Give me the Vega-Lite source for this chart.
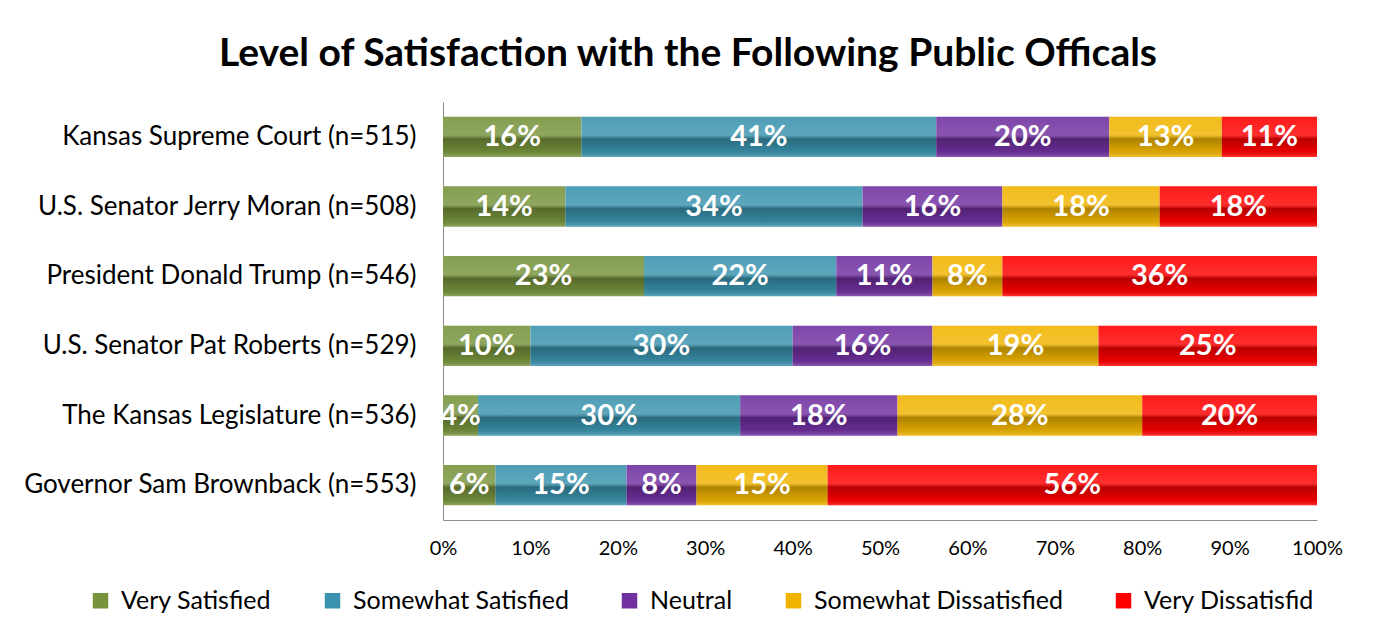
{
  "$schema": "https://vega.github.io/schema/vega-lite/v6.json",
  "width": 874,
  "height": 418,
  "autosize": {"type": "none"},
  "padding": {"left": 443, "top": 102, "right": 60, "bottom": 115},
  "background": "white",
  "config": {"view": {"stroke": null}, "font": "Lato"},
  "title": {
    "text": "Level of Satisfaction with the Following Public Officals",
    "fontSize": 39,
    "fontWeight": "bold",
    "color": "black",
    "font": "Lato",
    "anchor": "middle",
    "dx": -192,
    "offset": 28
  },
  "data": {
    "values": [
      {"official": "Kansas Supreme Court (n=515)", "level": "Very Satisfied", "ord": 1, "pct": 16},
      {"official": "Kansas Supreme Court (n=515)", "level": "Somewhat Satisfied", "ord": 2, "pct": 41},
      {"official": "Kansas Supreme Court (n=515)", "level": "Neutral", "ord": 3, "pct": 20},
      {"official": "Kansas Supreme Court (n=515)", "level": "Somewhat Dissatisfied", "ord": 4, "pct": 13},
      {"official": "Kansas Supreme Court (n=515)", "level": "Very Dissatisfid", "ord": 5, "pct": 11},
      {"official": "U.S. Senator Jerry Moran (n=508)", "level": "Very Satisfied", "ord": 1, "pct": 14},
      {"official": "U.S. Senator Jerry Moran (n=508)", "level": "Somewhat Satisfied", "ord": 2, "pct": 34},
      {"official": "U.S. Senator Jerry Moran (n=508)", "level": "Neutral", "ord": 3, "pct": 16},
      {"official": "U.S. Senator Jerry Moran (n=508)", "level": "Somewhat Dissatisfied", "ord": 4, "pct": 18},
      {"official": "U.S. Senator Jerry Moran (n=508)", "level": "Very Dissatisfid", "ord": 5, "pct": 18},
      {"official": "President Donald Trump (n=546)", "level": "Very Satisfied", "ord": 1, "pct": 23},
      {"official": "President Donald Trump (n=546)", "level": "Somewhat Satisfied", "ord": 2, "pct": 22},
      {"official": "President Donald Trump (n=546)", "level": "Neutral", "ord": 3, "pct": 11},
      {"official": "President Donald Trump (n=546)", "level": "Somewhat Dissatisfied", "ord": 4, "pct": 8},
      {"official": "President Donald Trump (n=546)", "level": "Very Dissatisfid", "ord": 5, "pct": 36},
      {"official": "U.S. Senator Pat Roberts (n=529)", "level": "Very Satisfied", "ord": 1, "pct": 10},
      {"official": "U.S. Senator Pat Roberts (n=529)", "level": "Somewhat Satisfied", "ord": 2, "pct": 30},
      {"official": "U.S. Senator Pat Roberts (n=529)", "level": "Neutral", "ord": 3, "pct": 16},
      {"official": "U.S. Senator Pat Roberts (n=529)", "level": "Somewhat Dissatisfied", "ord": 4, "pct": 19},
      {"official": "U.S. Senator Pat Roberts (n=529)", "level": "Very Dissatisfid", "ord": 5, "pct": 25},
      {"official": "The Kansas Legislature (n=536)", "level": "Very Satisfied", "ord": 1, "pct": 4},
      {"official": "The Kansas Legislature (n=536)", "level": "Somewhat Satisfied", "ord": 2, "pct": 30},
      {"official": "The Kansas Legislature (n=536)", "level": "Neutral", "ord": 3, "pct": 18},
      {"official": "The Kansas Legislature (n=536)", "level": "Somewhat Dissatisfied", "ord": 4, "pct": 28},
      {"official": "The Kansas Legislature (n=536)", "level": "Very Dissatisfid", "ord": 5, "pct": 20},
      {"official": "Governor Sam Brownback (n=553)", "level": "Very Satisfied", "ord": 1, "pct": 6},
      {"official": "Governor Sam Brownback (n=553)", "level": "Somewhat Satisfied", "ord": 2, "pct": 15},
      {"official": "Governor Sam Brownback (n=553)", "level": "Neutral", "ord": 3, "pct": 8},
      {"official": "Governor Sam Brownback (n=553)", "level": "Somewhat Dissatisfied", "ord": 4, "pct": 15},
      {"official": "Governor Sam Brownback (n=553)", "level": "Very Dissatisfid", "ord": 5, "pct": 56}
    ]
  },
  "transform": [
    {"stack": "pct", "groupby": ["official"], "sort": [{"field": "ord"}], "as": ["x0", "x1"], "offset": "normalize"},
    {"calculate": "(datum.x0 + datum.x1) / 2", "as": "xm"},
    {"calculate": "datum.pct + '%'", "as": "label"}
  ],
  "encoding": {
    "y": {
      "field": "official",
      "type": "nominal",
      "sort": [
        "Kansas Supreme Court (n=515)",
        "U.S. Senator Jerry Moran (n=508)",
        "President Donald Trump (n=546)",
        "U.S. Senator Pat Roberts (n=529)",
        "The Kansas Legislature (n=536)",
        "Governor Sam Brownback (n=553)"
      ],
      "scale": {"paddingInner": 0.42, "paddingOuter": 0.21},
      "axis": {
        "title": null,
        "ticks": false,
        "labelFontSize": 26,
        "labelColor": "black",
        "labelPadding": 27,
        "labelLimit": 600,
        "domainColor": "#8c8c8c",
        "domainWidth": 1
      }
    }
  },
  "layer": [
    {
      "mark": {"type": "bar"},
      "encoding": {
        "x": {
          "field": "x0",
          "type": "quantitative",
          "scale": {"domain": [0, 1], "nice": false},
          "axis": {
            "title": null,
            "format": ".0%",
            "values": [0, 0.1, 0.2, 0.3, 0.4, 0.5, 0.6, 0.7, 0.8, 0.9, 1],
            "ticks": false,
            "grid": false,
            "labelFlush": false,
            "labelFontSize": 20,
            "labelColor": "black",
            "labelPadding": 18,
            "domainColor": "#8c8c8c",
            "domainWidth": 1
          }
        },
        "x2": {"field": "x1"},
        "color": {
          "field": "level",
          "type": "nominal",
          "scale": {
            "domain": ["Very Satisfied", "Somewhat Satisfied", "Neutral", "Somewhat Dissatisfied", "Very Dissatisfid"],
            "range": ["#77933c", "#3a93ae", "#7030a0", "#f0b400", "#ff0000"]
          },
          "legend": {
            "title": null,
            "orient": "none",
            "direction": "horizontal",
            "legendX": -355,
            "legendY": 486,
            "symbolType": "square",
            "symbolSize": 240,
            "symbolStrokeWidth": 0,
            "labelFontSize": 25,
            "labelLimit": 600,
            "labelColor": "black",
            "labelOffset": 8,
            "columnPadding": 48
          }
        }
      }
    },
    {
      "mark": {
        "type": "bar",
        "fill": {
          "gradient": "linear",
          "x1": 0, "y1": 0, "x2": 0, "y2": 1,
          "stops": [
            {"offset": 0, "color": "rgba(255,255,255,0.10)"},
            {"offset": 0.45, "color": "rgba(255,255,255,0.18)"},
            {"offset": 0.55, "color": "rgba(0,0,0,0.28)"},
            {"offset": 0.85, "color": "rgba(0,0,0,0.10)"},
            {"offset": 1, "color": "rgba(255,255,255,0.20)"}
          ]
        }
      },
      "encoding": {
        "x": {"field": "x0", "type": "quantitative"},
        "x2": {"field": "x1"}
      }
    },
    {
      "mark": {"type": "text", "color": "white", "fontWeight": "bold", "fontSize": 29, "baseline": "middle", "align": "center"},
      "encoding": {
        "x": {"field": "xm", "type": "quantitative"},
        "text": {"field": "label", "type": "nominal"}
      }
    }
  ]
}
